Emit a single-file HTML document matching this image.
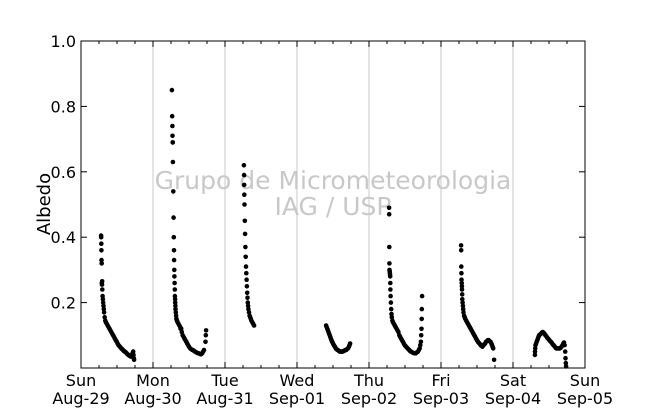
<!DOCTYPE html>
<html><head><meta charset="utf-8"><style>
body{margin:0;background:#fff;width:650px;height:409px;overflow:hidden}
svg{font-family:"DejaVu Sans","Liberation Sans",sans-serif}
</style></head><body>
<svg id="chart" width="650" height="409" viewBox="0 0 650 409"></svg>
<script>
const dayLabels=["Sun","Mon","Tue","Wed","Thu","Fri","Sat","Sun"];
const dateLabels=["Aug-29","Aug-30","Aug-31","Sep-01","Sep-02","Sep-03","Sep-04","Sep-05"];
const yTicks=[0.2,0.4,0.6,0.8,1.0];
const yTickLabels=["0.2","0.4","0.6","0.8","1.0"];
// [hour, albedo] per day
const day0=[[6.7,.405],[6.72,.40],[6.75,.38],[6.8,.36],[6.85,.33],[6.9,.32],[6.95,.26],[7.0,.255],[7.05,.265],[7.1,.24],[7.2,.22],[7.3,.21],[7.4,.20],[7.5,.19],[7.6,.18],[7.7,.17],[7.9,.155],[8.1,.145],[8.3,.14],[8.6,.135],[8.9,.13],[9.2,.125],[9.5,.12],[9.8,.115],[10.1,.11],[10.4,.105],[10.7,.10],[11.0,.095],[11.3,.09],[11.6,.085],[11.9,.08],[12.2,.075],[12.5,.07],[12.8,.067],[13.1,.064],[13.4,.06],[13.7,.058],[14.0,.055],[14.3,.052],[14.6,.05],[14.9,.048],[15.2,.045],[15.5,.042],[15.8,.04],[16.1,.038],[16.4,.036],[16.7,.035],[17.0,.04],[17.2,.045],[17.4,.05],[17.5,.04],[17.6,.03],[17.7,.025]];
const day1=[[6.3,.85],[6.4,.77],[6.45,.74],[6.5,.71],[6.55,.69],[6.6,.69],[6.65,.63],[6.75,.54],[6.85,.46],[6.95,.40],[7.0,.36],[7.05,.33],[7.1,.30],[7.15,.28],[7.2,.26],[7.25,.24],[7.3,.22],[7.35,.21],[7.4,.20],[7.45,.19],[7.5,.18],[7.6,.17],[7.7,.16],[7.8,.15],[8.0,.145],[8.2,.14],[8.5,.135],[8.8,.13],[9.1,.125],[9.2,.12],[9.4,.12],[9.6,.11],[9.9,.10],[10.2,.095],[10.5,.09],[10.8,.085],[11.1,.08],[11.4,.075],[11.7,.07],[12.0,.065],[12.4,.06],[12.8,.057],[13.2,.055],[13.6,.053],[14.0,.05],[14.4,.048],[14.8,.046],[15.2,.045],[15.6,.043],[16.0,.042],[16.4,.045],[16.7,.05],[17.0,.055],[17.5,.08],[17.6,.10],[17.7,.115]];
const day2=[[6.3,.62],[6.35,.59],[6.4,.56],[6.45,.53],[6.5,.50],[6.6,.45],[6.7,.41],[6.8,.37],[6.9,.34],[7.0,.31],[7.1,.29],[7.2,.27],[7.3,.25],[7.4,.23],[7.5,.215],[7.6,.20],[7.7,.19],[7.8,.18],[8.0,.17],[8.2,.16],[8.4,.155],[8.6,.15],[8.8,.145],[9.1,.14],[9.4,.135],[9.7,.13]];
const day3=[[9.7,.13],[9.9,.125],[10.1,.12],[10.3,.115],[10.5,.11],[10.7,.105],[10.9,.10],[11.1,.095],[11.3,.09],[11.5,.085],[11.7,.08],[11.9,.077],[12.1,.073],[12.3,.07],[12.5,.067],[12.7,.064],[12.9,.061],[13.1,.058],[13.4,.056],[13.7,.054],[14.0,.052],[14.3,.05],[14.6,.05],[14.9,.05],[15.2,.05],[15.5,.052],[15.8,.053],[16.1,.055],[16.4,.055],[16.7,.058],[17.0,.06],[17.3,.065],[17.5,.07],[17.7,.075]];
const day4=[[6.7,.49],[6.72,.47],[6.75,.37],[6.8,.32],[6.85,.30],[6.9,.295],[6.95,.29],[7.0,.285],[7.05,.28],[7.1,.26],[7.15,.24],[7.2,.22],[7.3,.20],[7.4,.18],[7.5,.165],[7.6,.155],[7.8,.145],[8.0,.14],[8.3,.135],[8.6,.13],[8.9,.125],[9.2,.12],[9.5,.115],[9.8,.11],[10.1,.10],[10.4,.095],[10.7,.09],[11.0,.085],[11.3,.08],[11.6,.075],[11.9,.07],[12.2,.067],[12.5,.064],[12.8,.061],[13.1,.058],[13.4,.055],[13.7,.052],[14.0,.05],[14.4,.048],[14.8,.046],[15.2,.045],[15.6,.045],[16.0,.048],[16.3,.05],[16.6,.055],[16.9,.06],[17.1,.07],[17.3,.08],[17.4,.10],[17.5,.12],[17.55,.15],[17.6,.18],[17.7,.22]];
const day5=[[6.7,.375],[6.72,.36],[6.75,.31],[6.8,.29],[6.85,.27],[6.9,.26],[6.95,.25],[7.0,.24],[7.05,.225],[7.1,.21],[7.2,.20],[7.3,.19],[7.4,.18],[7.5,.17],[7.7,.16],[7.9,.155],[8.1,.15],[8.4,.145],[8.7,.14],[9.0,.135],[9.3,.13],[9.6,.125],[9.9,.12],[10.2,.115],[10.5,.11],[10.8,.105],[11.1,.10],[11.4,.095],[11.7,.09],[12.0,.085],[12.3,.08],[12.6,.077],[12.9,.074],[13.2,.07],[13.5,.068],[13.8,.065],[14.1,.07],[14.4,.072],[14.7,.075],[15.0,.08],[15.3,.082],[15.6,.085],[15.9,.085],[16.2,.082],[16.5,.08],[16.8,.075],[17.0,.07],[17.2,.065],[17.4,.06],[17.7,.025]];
const day6=[[7.3,.04],[7.35,.05],[7.4,.06],[7.5,.07],[7.7,.075],[7.9,.08],[8.1,.085],[8.3,.09],[8.5,.095],[8.7,.10],[9.0,.102],[9.3,.105],[9.6,.108],[9.9,.11],[10.2,.108],[10.5,.105],[10.8,.10],[11.1,.097],[11.4,.093],[11.7,.09],[12.0,.087],[12.3,.083],[12.6,.08],[12.9,.077],[13.2,.073],[13.5,.07],[13.8,.067],[14.1,.063],[14.4,.06],[14.7,.06],[15.0,.06],[15.3,.06],[15.6,.06],[15.9,.062],[16.2,.065],[16.5,.07],[16.8,.075],[17.0,.078],[17.2,.07],[17.4,.05],[17.5,.03],[17.6,.015],[17.7,.005]];
const days=[day0,day1,day2,day3,day4,day5,day6];

const NS="http://www.w3.org/2000/svg";
const svg=document.getElementById('chart');
const L=81,R=585,T=41,B=368,DW=(R-L)/7;
const xs=(d,h)=>L+(d+h/24)*DW;
const ys=v=>B-v*(B-T);
function mk(tag,attrs,parent){const e=document.createElementNS(NS,tag);for(const k in attrs)e.setAttribute(k,attrs[k]);(parent||svg).appendChild(e);return e;}

for(let d=1;d<7;d++){
  const g=mk('line',{x1:xs(d,0),x2:xs(d,0),y1:T,y2:B,stroke:'#c8c8c8','stroke-width':1});
  
  
}
const w1=mk('text',{x:333,y:189,'text-anchor':'middle','font-size':25,fill:'#c8c8c8'});w1.textContent="Grupo de Micrometeorologia";


const w2=mk('text',{x:333,y:215,'text-anchor':'middle','font-size':25,fill:'#c8c8c8'});w2.textContent="IAG / USP";



days.forEach((arr,d)=>{
  const g=mk('g',{fill:'#000'});
  
  
  arr.forEach(p=>{
    const c=mk('circle',{cx:xs(d,p[0]).toFixed(1),cy:ys(p[1]).toFixed(1),r:2.3},g);
    
    
  });
});

const fr=mk('rect',{x:L,y:T,width:R-L,height:B-T,fill:'none',stroke:'#000','stroke-width':1});



for(let d=0;d<=7;d++){
  for(let q=0;q<4;q++){
    if(d===7&&q>0)break;
    const x=xs(d,q*6),len=q===0?6:3;
    const t=mk('line',{x1:x,x2:x,y1:B,y2:B-len,stroke:'#000'});
    
    
    const t2=mk('line',{x1:x,x2:x,y1:T,y2:T+len,stroke:'#000'});
    
    
  }
  const a=mk('text',{x:xs(d,0),y:386,'text-anchor':'middle','font-size':16});a.textContent=dayLabels[d];
  
  
  const b=mk('text',{x:xs(d,0),y:404,'text-anchor':'middle','font-size':16});b.textContent=dateLabels[d];
  
  
}
yTicks.forEach((v,i)=>{
  const y=ys(v);
  const t=mk('line',{x1:L,x2:L+6,y1:y,y2:y,stroke:'#000'});
  
  
  const t2=mk('line',{x1:R,x2:R-6,y1:y,y2:y,stroke:'#000'});
  
  
  const l=mk('text',{x:76,y:y+6,'text-anchor':'end','font-size':16});l.textContent=yTickLabels[i];
  
  
});
const yt=mk('text',{x:50,y:204,'text-anchor':'middle','font-size':18,transform:'rotate(-90 50 204)'});yt.textContent="Albedo";


</script>
</body></html>
